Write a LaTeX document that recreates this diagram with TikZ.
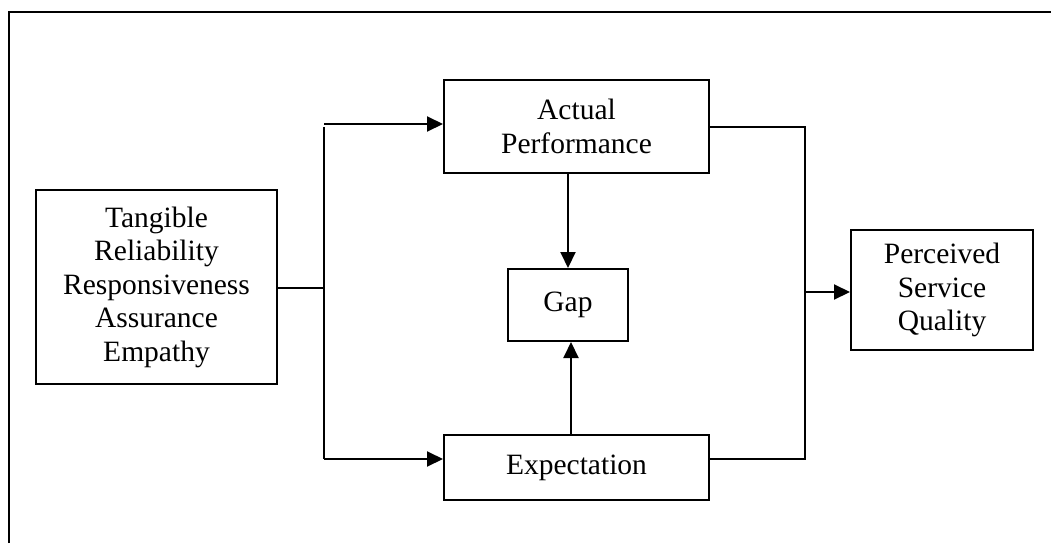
\documentclass[tikz,border=0pt]{standalone}
\usepackage{fontspec}
\setmainfont{Liberation Serif}
\usetikzlibrary{arrows.meta}
\begin{document}
\begin{tikzpicture}[x=1pt,y=-1pt,
  box/.style={draw,line width=2pt,inner sep=0pt,align=center,
    font=\fontsize{29.5}{33.5}\selectfont},
  conn/.style={line width=2pt},
  arr/.style={conn,-{Triangle[length=16pt,width=15pt]}}]
\useasboundingbox (0,0) rectangle (1051,543);
\draw[line width=2.5pt] (9,543) -- (9,12) -- (1051,12);
\node[box,minimum width=241pt,minimum height=194pt] (dims) at (156.5,287)
  {Tangible\\Reliability\\Responsiveness\\Assurance\\Empathy};
\node[box,minimum width=265pt,minimum height=93pt] (actual) at (576.5,126.5)
  {Actual\\Performance};
\node[box,minimum width=120pt,minimum height=72pt] (gap) at (568,305) {Gap};
\node[box,minimum width=265pt,minimum height=65pt] (expect) at (576.5,467.5)
  {Expectation};
\node[box,minimum width=182pt,minimum height=120pt] (perc) at (942,290)
  {Perceived\\Service\\Quality};
% left branching
\coordinate (bm) at (324,288);
\coordinate (bt) at (324,124);
\coordinate (bb) at (324,459);
\draw[conn] (dims.east |- bm) -- (bm);
\draw[conn] (324,127) -- (bb);
\draw[arr] (bt) -- (bt -| actual.west);
\draw[arr] (bb) -- (bb -| expect.west);
% gap arrows
\draw[arr] (actual.south -| gap.north) -- (gap.north);
\draw[arr] ([xshift=3pt]expect.north -| gap.south) -- ([xshift=3pt]gap.south);
% right branching
\coordinate (rt) at (805,127);
\coordinate (rb) at (805,459);
\coordinate (rm) at (805,292);
\draw[conn] (actual.east |- rt) -- (rt) -- (rb) -- (expect.east |- rb);
\draw[arr] (rm) -- (rm -| perc.west);
\end{tikzpicture}
\end{document}
